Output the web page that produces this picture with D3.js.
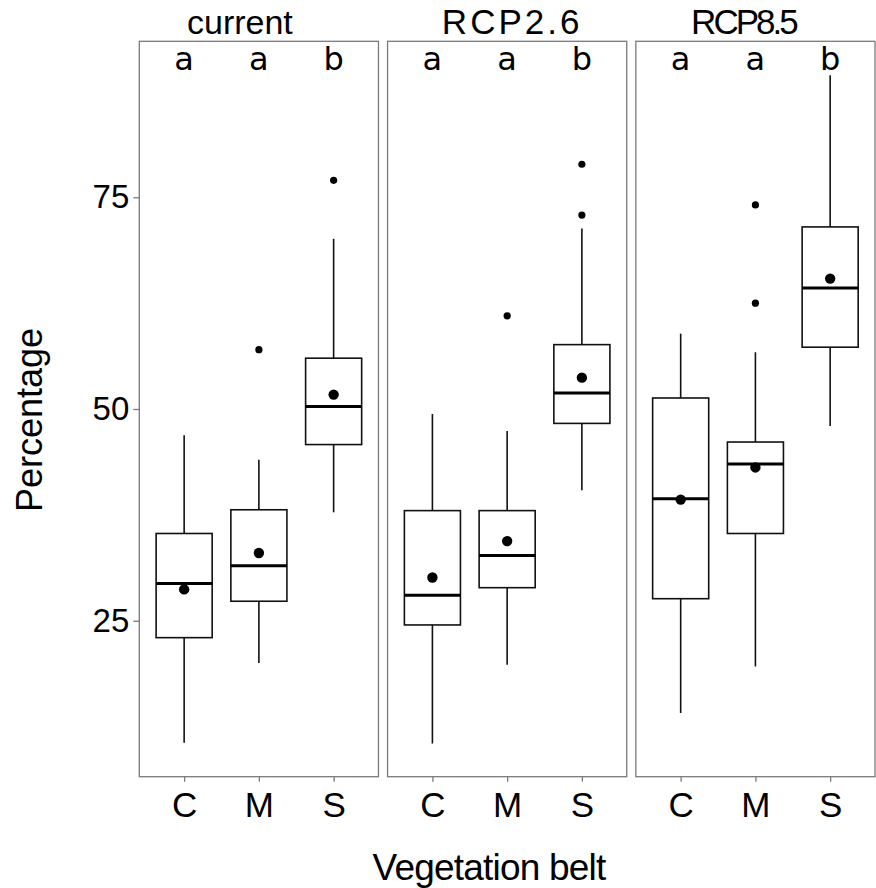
<!DOCTYPE html>
<html>
<head>
<meta charset="utf-8">
<script src="https://cdn.jsdelivr.net/npm/d3@7"></script>
<style>
  html, body { margin: 0; padding: 0; background: #fff; }
  svg { display: block; }
</style>
</head>
<body>
<svg id="chart" width="876" height="888"></svg>
<script>
// Facets and categories
const scenarios = ["current", "RCP2.6", "RCP8.5"];
const belts = ["C", "M", "S"];

// Box statistics per scenario (rows) and belt (columns)
const whiskerLow  = [[10.6, 20.0, 37.8], [10.5, 19.8, 40.4], [14.1, 19.6, 48.0]];
const q1          = [[23.0, 27.3, 45.8], [24.5, 28.9, 48.3], [27.6, 35.3, 57.3]];
const medians     = [[29.4, 31.5, 50.3], [28.0, 32.7, 51.9], [39.4, 43.5, 64.3]];
const q3          = [[35.3, 38.1, 56.0], [38.0, 38.0, 57.6], [51.3, 46.1, 71.5]];
const whiskerHigh = [[46.9, 44.0, 70.1], [49.4, 47.4, 71.3], [58.9, 56.7, 89.4]];
const means       = [[28.7, 33.0, 51.7], [30.1, 34.4, 53.7], [39.3, 43.1, 65.4]];
const outliers    = [[[], [57.0], [77.0]], [[], [61.0], [72.9, 78.9]], [[], [62.5, 74.1], []]];

// Significance groups shown at the top of each panel
const groupLetters = [["a", "a", "b"], ["a", "a", "b"], ["a", "a", "b"]];

// Axis ticks and titles
const yTicks = [25, 50, 75];
const yTitle = "Percentage";
const xTitle = "Vegetation belt";

// Strip label styling (font and horizontal nudge per facet)
const stripStyle = [
  { family: "Liberation Sans, Arial, sans-serif", size: 34, spacing: 0, dx: -19 },
  { family: "Liberation Sans, Arial, sans-serif", size: 35, spacing: 3, dx: 5 },
  { family: "Liberation Sans, Arial, sans-serif", size: 35, spacing: -3, dx: -12 }
];

const svg = d3.select("#chart");
const W = 876, H = 888;
const plotLeft = 139.3, plotRight = 875, plotTop = 41.3, plotBottom = 776.7;

const facet = d3.scaleBand()
  .domain(scenarios)
  .range([plotLeft, plotRight])
  .paddingInner(0.0366)
  .paddingOuter(0);
const pw = facet.bandwidth();

const x = d3.scalePoint().domain(belts).range([0, pw]).padding(0.6);
const step = x.step();
const boxW = step * 0.75;

const y = d3.scaleLinear().domain([6.58, 93.42]).range([plotBottom, plotTop]);

const lineCol = "#111";
const gridCol = "#7a7a7a";

scenarios.forEach((sc, si) => {
  const g = svg.append("g").attr("transform", `translate(${facet(sc)},0)`);

  // white panel background
  g.append("rect")
    .attr("x", 0).attr("y", plotTop)
    .attr("width", pw).attr("height", plotBottom - plotTop)
    .attr("fill", "#fff");

  belts.forEach((b, bi) => {
    const cx = x(b);
    // whiskers
    g.append("line")
      .attr("x1", cx).attr("x2", cx)
      .attr("y1", y(whiskerHigh[si][bi])).attr("y2", y(q3[si][bi]))
      .attr("stroke", lineCol).attr("stroke-width", 1.6);
    g.append("line")
      .attr("x1", cx).attr("x2", cx)
      .attr("y1", y(q1[si][bi])).attr("y2", y(whiskerLow[si][bi]))
      .attr("stroke", lineCol).attr("stroke-width", 1.6);
    // box
    g.append("rect")
      .attr("x", cx - boxW / 2).attr("width", boxW)
      .attr("y", y(q3[si][bi])).attr("height", y(q1[si][bi]) - y(q3[si][bi]))
      .attr("fill", "#fff").attr("stroke", lineCol).attr("stroke-width", 1.6);
    // median
    g.append("line")
      .attr("x1", cx - boxW / 2).attr("x2", cx + boxW / 2)
      .attr("y1", y(medians[si][bi])).attr("y2", y(medians[si][bi]))
      .attr("stroke", "#000").attr("stroke-width", 3);
    // outliers
    g.selectAll(null).data(outliers[si][bi]).enter().append("circle")
      .attr("cx", cx).attr("cy", d => y(d)).attr("r", 3.6)
      .attr("fill", "#000");
    // mean
    g.append("circle")
      .attr("cx", cx).attr("cy", y(means[si][bi])).attr("r", 5.2)
      .attr("fill", "#000");
    // group letter
    g.append("text")
      .attr("x", cx).attr("y", 70)
      .attr("text-anchor", "middle")
      .attr("font-family", "DejaVu Sans, Verdana, sans-serif")
      .attr("font-size", 32)
      .attr("fill", "#000")
      .text(groupLetters[si][bi]);
  });

  // panel border
  g.append("rect")
    .attr("x", 0).attr("y", plotTop)
    .attr("width", pw).attr("height", plotBottom - plotTop)
    .attr("fill", "none").attr("stroke", gridCol).attr("stroke-width", 1.3);

  // x axis
  const xa = g.append("g").attr("transform", `translate(0,${plotBottom})`)
    .call(d3.axisBottom(x).tickSize(5).tickPadding(10));
  xa.select(".domain").remove();
  xa.selectAll(".tick line").attr("stroke", gridCol).attr("stroke-width", 1.3);
  xa.selectAll(".tick text")
    .attr("font-family", "Liberation Sans, Arial, sans-serif")
    .attr("font-size", 35).attr("fill", "#000");

  // strip label
  const st = stripStyle[si];
  g.append("text")
    .attr("x", pw / 2 + st.dx).attr("y", 34)
    .attr("text-anchor", "middle")
    .attr("font-family", st.family)
    .attr("font-size", st.size)
    .attr("letter-spacing", st.spacing)
    .attr("fill", "#000")
    .text(sc);
});

// y axis on the first panel
const ya = svg.append("g").attr("transform", `translate(${plotLeft},0)`)
  .call(d3.axisLeft(y).tickValues(yTicks).tickSize(6).tickPadding(4));
ya.select(".domain").remove();
ya.selectAll(".tick line").attr("stroke", gridCol).attr("stroke-width", 1.3);
ya.selectAll(".tick text")
  .attr("font-family", "Liberation Sans, Arial, sans-serif")
  .attr("font-size", 33).attr("fill", "#000");

// axis titles
svg.append("text")
  .attr("transform", `translate(42,420) rotate(-90)`)
  .attr("text-anchor", "middle")
  .attr("font-family", "Liberation Sans, Arial, sans-serif")
  .attr("font-size", 36).attr("fill", "#000")
  .text(yTitle);

svg.append("text")
  .attr("x", 489).attr("y", 880)
  .attr("text-anchor", "middle")
  .attr("font-family", "Liberation Sans, Arial, sans-serif")
  .attr("font-size", 37).attr("letter-spacing", -0.8).attr("fill", "#000")
  .text(xTitle);
</script>
</body>
</html>
